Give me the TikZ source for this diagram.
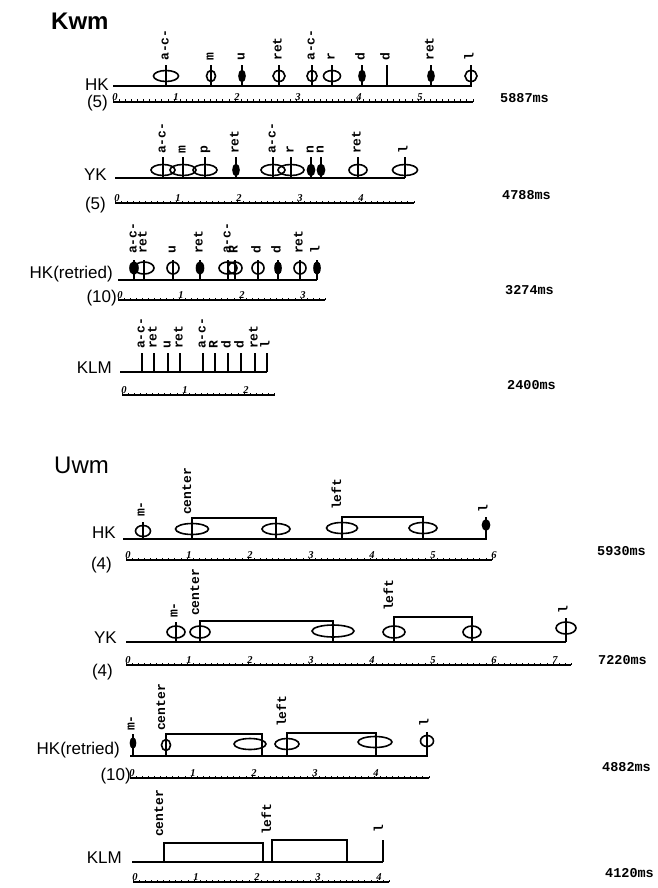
\documentclass[tikz,border=0pt]{standalone}
\usepackage{fontspec}
\setmainfont{Liberation Sans}
\newfontfamily\lblfont{Liberation Mono}
\newfontfamily\digfont{Liberation Serif}
\newcommand\rulerx[4]{%
  \draw[rul] (#1,#2) -- ({#1+#3*6.1},#2);
  \foreach \i in {0,...,#3} \draw[tck] ({#1+\i*6.1},#2) -- ++(0,-2.5);
  \foreach \i in {0,...,#4} \node[dig] at ({#1+\i*61+2},{#2-1}) {\i};
}
\begin{document}
\begin{tikzpicture}[x=1pt,y=-1pt,
  base/.style={line width=1.9pt},
  gl/.style={line width=1.6pt},
  evo/.style={gl},
  evf/.style={gl, fill=black},
  evs/.style={draw=none},
  rul/.style={line width=1.2pt},
  tck/.style={line width=0.7pt},
  dig/.style={font=\digfont\bfseries\itshape\fontsize{10.5}{10.5}\selectfont, anchor=south, inner sep=0pt},
  lbl/.style={font=\lblfont\bfseries\fontsize{13}{13}\selectfont, rotate=90, anchor=base west, inner sep=0pt},
  rowl/.style={font=\fontsize{17}{17}\selectfont, anchor=east, inner sep=0pt},
  tm/.style={font=\lblfont\bfseries\fontsize{13.5}{13.5}\selectfont, anchor=west, inner sep=0pt},
  ttl/.style={font=\fontsize{24}{24}\selectfont, anchor=west, inner sep=0pt}]
\fill[white] (0,0) rectangle (657,888);
\useasboundingbox (0,0) rectangle (657,888);

% ================= Kwm =================
\node[ttl,font=\bfseries\fontsize{24}{24}\selectfont] (tk) at (51,21) {Kwm};

% HK
\node[rowl] (k1) at (109,85) {HK};
\node[rowl] (k1n) at (108,103) {(5)};
\node[tm] (k1t) at (500,98) {5887ms};
\draw[base] (113,86) -- (472,86);
\foreach \x/\r/\t/\l in {166/12.5/evo/a-c-, 211/4.5/evo/m, 242/3/evf/u, 279/6/evo/ret, 312/5/evo/a-c-, 332/8.5/evo/r, 362/3/evf/d, 387/0/evs/d, 431/3/evf/ret, 471/6/evo/l}{
  \draw[gl] (\x,86) -- (\x,65);
  \draw[\t] (\x,76) ellipse [x radius=\r pt, y radius=5.5pt];
  \node[lbl] (ka\x) at ({\x+2.5},61) {\l};
}
\rulerx{113}{102}{59}{5}

% YK
\node[rowl] (k2) at (107,175) {YK};
\node[rowl] (k2n) at (106,205) {(5)};
\node[tm] (k2t) at (502,195) {4788ms};
\draw[base] (115,178) -- (405,178);
\foreach \x/\r/\t/\l in {163/12/evo/a-c-, 183/13/evo/m, 205/12/evo/p, 236/3/evf/ret, 273/12/evo/a-c-, 291/13/evo/r, 311/3.5/evf/n, 321/3.5/evf/n, 358/9/evo/ret, 405/12.5/evo/l}{
  \draw[gl] (\x,178) -- (\x,157);
  \draw[\t] (\x,170) ellipse [x radius=\r pt, y radius=5.5pt];
  \node[lbl] (kb\x) at ({\x+2.5},154) {\l};
}
\rulerx{115}{203}{49}{4}

% HK(retried)
\node[rowl] (k3) at (113,274) {HK(retried)};
\node[rowl] (k3n) at (117,298) {(10)};
\node[tm] (k3t) at (505,290) {3274ms};
\draw[base] (118,280) -- (317,280);
\foreach \x/\r/\t/\l in {134/4/evf/a-c-, 144/10/evo/ret, 173/6/evo/u, 200/3.5/evf/ret, 228/9/evo/a-c-, 235/7/evo/R, 258/6/evo/d, 278/3/evf/d, 300/6/evo/ret, 317/3/evf/l}{
  \draw[gl] (\x,280) -- (\x,260);
  \draw[\t] (\x,268) ellipse [x radius=\r pt, y radius=6pt];
  \node[lbl] (kc\x) at ({\x+2.5},254) {\l};
}
\rulerx{118}{300}{34}{3}

% KLM
\node[rowl] (k4) at (112,368) {KLM};
\node[tm] (k4t) at (507,385) {2400ms};
\draw[base] (120,372) -- (267,372);
\foreach \x/\l in {142/a-c-, 154/ret, 168/u, 180/ret, 203/a-c-, 215/R, 228/d, 241/d, 255/ret, 267/l}{
  \draw[gl] (\x,372) -- (\x,353);
  \node[lbl] (kd\x) at ({\x+2.5},349) {\l};
}
\rulerx{122}{395}{25}{2}

% ================= Uwm =================
\node[ttl] (tu) at (54,465) {Uwm};

% HK
\node[rowl] (u1) at (116,533) {HK};
\node[rowl] (u1n) at (112,565) {(4)};
\node[tm] (u1t) at (597,551) {5930ms};
\draw[base] (123,539) -- (487,539);
\draw[gl] (143,539) -- (143,522);
\draw[evo] (143,531) ellipse [x radius=7.5pt, y radius=5.5pt];
\node[lbl] (ua1) at (144.5,517) {m-};
\draw[gl] (192,539) |- (276,518) -- (276,539);
\draw[evo] (192,529) ellipse [x radius=16.5pt, y radius=5.5pt];
\draw[evo] (276,529) ellipse [x radius=14pt, y radius=5.5pt];
\node[lbl] (ua2) at (191,515) {center};
\draw[gl] (342,539) |- (423,517) -- (423,539);
\draw[evo] (342,528) ellipse [x radius=15.5pt, y radius=5.5pt];
\draw[evo] (423,528) ellipse [x radius=14pt, y radius=5.5pt];
\node[lbl] (ua3) at (341,510) {left};
\draw[gl] (486,539) -- (486,517);
\draw[evf] (486,525) ellipse [x radius=3.5pt, y radius=5pt];
\node[lbl] (ua4) at (487.5,513) {l};
\rulerx{126}{560}{60}{6}

% YK
\node[rowl] (u2) at (117,638) {YK};
\node[rowl] (u2n) at (113,672) {(4)};
\node[tm] (u2t) at (598,660) {7220ms};
\draw[base] (126,642) -- (566,642);
\draw[gl] (176,642) -- (176,622);
\draw[evo] (176,632) ellipse [x radius=9pt, y radius=6pt];
\node[lbl] (ub1) at (177.5,618) {m-};
\draw[gl] (200,642) |- (333,621) -- (333,642);
\draw[evo] (200,632) ellipse [x radius=10pt, y radius=6pt];
\draw[evo] (333,631) ellipse [x radius=21pt, y radius=6pt];
\node[lbl] (ub2) at (199,616) {center};
\draw[gl] (394,642) |- (472,617) -- (472,642);
\draw[evo] (394,632) ellipse [x radius=11pt, y radius=6pt];
\draw[evo] (472,632) ellipse [x radius=9pt, y radius=6pt];
\node[lbl] (ub3) at (393,611) {left};
\draw[gl] (566,642) -- (566,618);
\draw[evo] (566,628) ellipse [x radius=10pt, y radius=6pt];
\node[lbl] (ub4) at (567.5,614) {l};
\rulerx{126}{665}{73}{7}

% HK(retried)
\node[rowl] (u3) at (120,750) {HK(retried)};
\node[rowl] (u3n) at (131,776) {(10)};
\node[tm] (u3t) at (602,767) {4882ms};
\draw[base] (130,756) -- (428,756);
\draw[gl] (133,756) -- (133,734);
\draw[evf] (133,743) ellipse [x radius=2.5pt, y radius=5pt];
\node[lbl] (uc1) at (134.5,731) {m-};
\draw[gl] (166,756) |- (262,734) -- (262,756);
\draw[evo] (166,745) ellipse [x radius=4.5pt, y radius=5.5pt];
\draw[evo] (250,744) ellipse [x radius=16pt, y radius=5.5pt];
\node[lbl] (uc2) at (165,731) {center};
\draw[gl] (287,756) |- (376,733) -- (376,756);
\draw[evo] (287,744) ellipse [x radius=12pt, y radius=5.5pt];
\draw[evo] (375,742) ellipse [x radius=17pt, y radius=5.5pt];
\node[lbl] (uc3) at (286,727) {left};
\draw[gl] (427,756) -- (427,732);
\draw[evo] (427,741) ellipse [x radius=6.5pt, y radius=5.5pt];
\node[lbl] (uc4) at (428.5,727) {l};
\rulerx{130}{778}{49}{4}

% KLM
\node[rowl] (u4) at (122,858) {KLM};
\node[tm] (u4t) at (605,873) {4120ms};
\draw[base] (132,862) -- (383,862);
\draw[gl] (164,862) |- (263,843) -- (263,862);
\draw[gl] (272,862) |- (347,840) -- (347,862);
\draw[gl] (383,862) -- (383,840);
\node[lbl] (ud1) at (163,837) {center};
\node[lbl] (ud2) at (271,835) {left};
\node[lbl] (ud3) at (383,833) {l};
\rulerx{133}{882}{42}{4}
\end{tikzpicture}
\end{document}
